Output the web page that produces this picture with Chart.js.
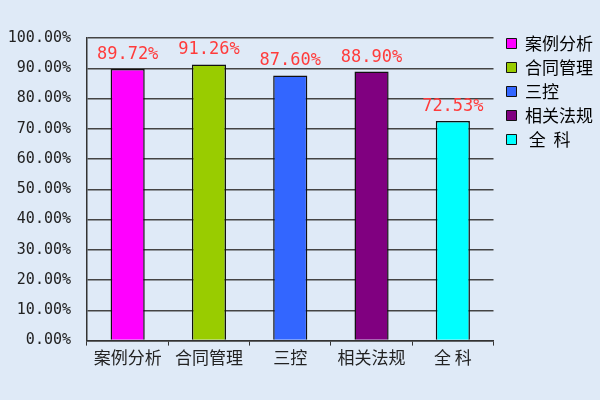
<!DOCTYPE html>
<html lang="zh">
<head>
    <meta charset="UTF-8">
    <title>通过率</title>
    <script src="https://cdn.jsdelivr.net/npm/chart.js@4.4.3/dist/chart.umd.min.js"></script>
    <style>
        * { margin: 0; padding: 0; }
        body {
            width: 600px;
            height: 400px;
            background: #dfeaf7;
        }
        .chartBox {
            width: 600px;
            height: 400px;
        }
    </style>
</head>
<body>
<div class="chartBox">
    <canvas id="myChart"></canvas>
</div>
<script>
    const categories = ['案例分析', '合同管理', '三控', '相关法规', '全 科'];
    const legendNames = ['案例分析', '合同管理', '三控', '相关法规', ' 全  科'];
    const passRates = [89.72, 91.26, 87.60, 88.90, 72.53];
    const barColors = ['#ff00ff', '#99cc00', '#3366ff', '#800080', '#00ffff'];

    const monoFont = '"DejaVu Sans Mono", monospace';
    const cjkFont = '"Noto Sans CJK SC", sans-serif';

    // red value labels above each bar
    const valueLabels = {
        id: 'valueLabels',
        afterDatasetsDraw(chart) {
            const ctx = chart.ctx;
            const meta = chart.getDatasetMeta(0);
            ctx.save();
            ctx.font = '17px ' + monoFont;
            ctx.fillStyle = '#ff3b3b';
            ctx.textAlign = 'center';
            ctx.textBaseline = 'bottom';
            meta.data.forEach((bar, i) => {
                ctx.fillText(passRates[i].toFixed(2) + '%', bar.x, bar.y - 6);
            });
            ctx.restore();
        }
    };

    // nudge the legend up and right, like the original
    const legendShift = {
        id: 'legendShift',
        afterLayout(chart) {
            chart.legend.top -= 10;
            chart.legend.bottom -= 10;
            chart.legend.left += 6;
            chart.legend.right += 6;
        }
    };

    new Chart(document.getElementById('myChart'), {
        type: 'bar',
        data: {
            labels: categories,
            datasets: [{
                data: passRates,
                backgroundColor: barColors,
                borderColor: '#111',
                borderWidth: 1.5,
                categoryPercentage: 1,
                barPercentage: 0.42
            }]
        },
        options: {
            responsive: true,
            maintainAspectRatio: false,
            animation: false,
            layout: { padding: { top: 38, right: 3, bottom: 30, left: 7 } },
            plugins: {
                tooltip: { enabled: false },
                legend: {
                    position: 'right',
                    align: 'start',
                    labels: {
                        boxWidth: 10,
                        boxHeight: 10,
                        padding: 7,
                        color: '#222',
                        font: { family: cjkFont, size: 17 },
                        generateLabels: (chart) => legendNames.map((name, i) => ({
                            text: name,
                            fillStyle: barColors[i],
                            strokeStyle: '#111',
                            lineWidth: 1,
                            index: i
                        }))
                    }
                }
            },
            scales: {
                x: {
                    grid: {
                        drawOnChartArea: false,
                        drawTicks: true,
                        tickLength: 5,
                        color: '#333'
                    },
                    border: { color: '#333', width: 1.5 },
                    ticks: {
                        color: '#222',
                        padding: 2,
                        font: { family: cjkFont, size: 17 }
                    }
                },
                y: {
                    min: 0,
                    max: 100,
                    afterFit: (scale) => { scale.width = 80; },
                    ticks: {
                        stepSize: 10,
                        color: '#222',
                        padding: 16,
                        font: { family: monoFont, size: 15 },
                        callback: (v) => v.toFixed(2) + '%'
                    },
                    grid: {
                        color: '#444',
                        lineWidth: 1.5,
                        drawTicks: false
                    },
                    border: { color: '#333', width: 1.5 }
                }
            }
        },
        plugins: [valueLabels, legendShift]
    });
</script>
</body>
</html>
